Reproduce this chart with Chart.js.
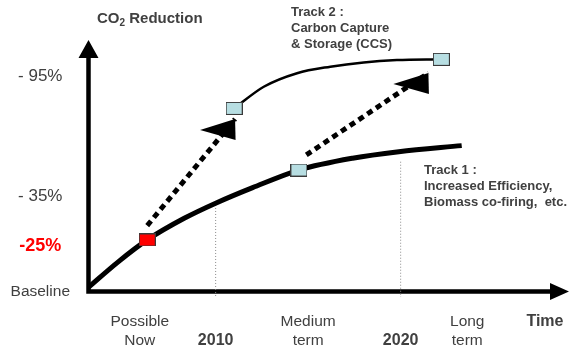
<!DOCTYPE html>
<html>
<head>
<meta charset="utf-8">
<script src="https://cdn.jsdelivr.net/npm/chart.js@4.4.1/dist/chart.umd.min.js"></script>
<style>
  body { margin: 0; background: #ffffff; }
  #wrap { width: 572px; height: 354px; position: relative; }
</style>
</head>
<body>
<div id="wrap"><canvas id="co2Chart"></canvas></div>
<script>
// time axis in years, vertical axis in conceptual "reduction level" units (0 = baseline)
var track1Years = [2003.1, 2004.7, 2006.3, 2008.3, 2010.0, 2012.0, 2014.5, 2017.4, 2019.9, 2023.3];
var track1Level = [1.5, 11.6, 20.5, 29.1, 35.1, 41.3, 48.3, 53.0, 55.6, 58.0];

var track2Years = [2011.0, 2012.6, 2014.4, 2016.2, 2018.0, 2019.8, 2022.2];
var track2Level = [72.8, 81.4, 86.8, 89.4, 91.1, 92.0, 92.3];

var nowYear = [2006.3];
var nowLevel = [20.5];
var stepYears = [2011.0, 2014.5, 2022.2];
var stepLevel = [72.8, 48.3, 92.3];

// dotted arrows: start and tip
var arrowFromYears = [2006.3, 2014.9];
var arrowFromLevel = [26.2, 54.3];
var arrowToYears = [2011.05, 2021.5];
var arrowToLevel = [68.6, 86.9];

var guideYears = [2010, 2020];
var guideTop = [34.4, 51.6];
var guideBottom = -2.2;

var yTickValues = [0, 18, 38, 85.4];
var yTickLabels = ['Baseline', '-25%', '- 35%', '- 95%'];
var xTickValues = [2005.9, 2010, 2015, 2020, 2023.6, 2027.8];
var xTickLabels = [['Possible', 'Now'], ['', '2010'], ['Medium', 'term'], ['', '2020'], ['Long', 'term'], ['Time', '']];

var FONT = "'Liberation Sans', Arial, sans-serif";
var TEXT = '#404040';

function pairs(xs, ys) {
    var out = [];
    for (var i = 0; i < xs.length; i++) out.push({ x: xs[i], y: ys[i] });
    return out;
}

function boxMarker(fill) {
    var c = document.createElement('canvas');
    c.width = 17;
    c.height = 13;
    var g = c.getContext('2d');
    g.fillStyle = '#3a3a3a';
    g.fillRect(0, 0, 17, 13);
    g.fillStyle = fill;
    g.fillRect(1, 1, 15, 11);
    return c;
}

var datasets = [
    { data: pairs(nowYear, nowLevel), pointStyle: boxMarker('#ff0000'), pointRadius: 8, showLine: false },
    { data: pairs(stepYears, stepLevel), pointStyle: boxMarker('#b7dee2'), pointRadius: 8, showLine: false },
    { type: 'line', data: pairs(track2Years, track2Level), borderColor: '#000', borderWidth: 2.5,
      pointRadius: 0, cubicInterpolationMode: 'monotone', fill: false },
    { type: 'line', data: pairs(track1Years, track1Level), borderColor: '#000', borderWidth: 5,
      pointRadius: 0, cubicInterpolationMode: 'monotone', fill: false }
];

for (var a = 0; a < arrowFromYears.length; a++) {
    datasets.push({
        data: [{ x: arrowFromYears[a], y: arrowFromLevel[a] }, { x: arrowToYears[a], y: arrowToLevel[a] }],
        showLine: true, borderColor: '#000', borderWidth: 5, borderDash: [6, 4.5], borderCapStyle: 'butt',
        pointRadius: 0, arrowTip: true
    });
}
for (var g = 0; g < guideYears.length; g++) {
    datasets.push({
        data: [{ x: guideYears[g], y: guideTop[g] }, { x: guideYears[g], y: guideBottom }],
        showLine: true, borderColor: '#8a8a8a', borderWidth: 1, borderDash: [1, 2],
        pointRadius: 0, clip: false
    });
}

var diagramPlugin = {
    id: 'diagram',
    beforeDatasetsDraw: function (chart) {
        var ctx = chart.ctx;
        var area = chart.chartArea;
        var ax = chart.scales.x.getPixelForValue(chart.scales.x.min) + 0.5;
        var ay = chart.scales.y.getPixelForValue(0);
        ctx.save();
        ctx.strokeStyle = '#000';
        ctx.fillStyle = '#000';
        ctx.lineWidth = 4.5;
        ctx.beginPath();
        ctx.moveTo(ax, ay + 2.25);
        ctx.lineTo(ax, area.top + 12);
        ctx.moveTo(ax - 2.25, ay);
        ctx.lineTo(area.right - 12, ay);
        ctx.stroke();
        // arrow heads of the two axes
        ctx.beginPath();
        ctx.moveTo(ax, area.top);
        ctx.lineTo(ax - 10, area.top + 18);
        ctx.lineTo(ax + 10, area.top + 18);
        ctx.closePath();
        ctx.moveTo(area.right, ay);
        ctx.lineTo(area.right - 19, ay - 8.5);
        ctx.lineTo(area.right - 19, ay + 8.5);
        ctx.closePath();
        ctx.fill();
        ctx.restore();
    },
    afterDatasetsDraw: function (chart) {
        var ctx = chart.ctx;
        ctx.save();
        ctx.fillStyle = '#000';
        chart.data.datasets.forEach(function (ds, i) {
            if (!ds.arrowTip) return;
            var pts = chart.getDatasetMeta(i).data;
            var tip = pts[pts.length - 1];
            ctx.beginPath();
            ctx.moveTo(tip.x, tip.y);
            ctx.lineTo(tip.x - 35, tip.y + 11);
            ctx.lineTo(tip.x + 0.5, tip.y + 21);
            ctx.closePath();
            ctx.fill();
        });
        ctx.restore();
    },
    afterDraw: function (chart) {
        var ctx = chart.ctx;
        ctx.save();
        ctx.fillStyle = TEXT;
        ctx.textBaseline = 'middle';
        ctx.textAlign = 'left';
        // title with subscript
        ctx.font = 'bold 15px ' + FONT;
        ctx.fillText('CO', 97, 19);
        var w = ctx.measureText('CO').width;
        ctx.font = 'bold 10px ' + FONT;
        ctx.fillText('2', 97 + w, 23);
        var w2 = ctx.measureText('2').width;
        ctx.font = 'bold 15px ' + FONT;
        ctx.fillText(' Reduction', 97 + w + w2, 19);

        ctx.font = 'bold 13px ' + FONT;
        ctx.fillText('Track 2 :', 291, 12);
        ctx.fillText('Carbon Capture', 291, 28);
        ctx.fillText('& Storage (CCS)', 291, 44);
        ctx.fillText('Track 1 :', 424, 170);
        ctx.fillText('Increased Efficiency,', 424, 186);
        ctx.fillText('Biomass co-firing,  etc.', 424, 202);
        ctx.restore();
    }
};

window.onload = function () {
    var ctx1 = document.getElementById('co2Chart').getContext('2d');
    window.co2Chart = new Chart(ctx1, {
        type: 'scatter',
        data: { datasets: datasets },
        plugins: [diagramPlugin],
        options: {
            responsive: true,
            maintainAspectRatio: false,
            animation: false,
            layout: { autoPadding: false, padding: { top: 40, right: 3, left: 0, bottom: 0 } },
            plugins: { legend: { display: false }, tooltip: { enabled: false } },
            scales: {
                x: {
                    type: 'linear',
                    min: 2003.1,
                    max: 2029.1,
                    grid: { display: false, drawTicks: false },
                    border: { display: false },
                    afterFit: function (scale) {
                        scale.height = 62.5;
                        scale.paddingLeft = 0;
                        scale.paddingRight = 0;
                    },
                    afterBuildTicks: function (scale) {
                        scale.ticks = xTickValues.map(function (v) { return { value: v }; });
                    },
                    ticks: {
                        padding: 21,
                        maxRotation: 0,
                        autoSkip: false,
                        color: TEXT,
                        font: function (c) {
                            var bold = c.index === 1 || c.index === 3 || c.index === 5;
                            return { family: FONT, size: bold ? 16 : 15.5, weight: bold ? 'bold' : 'normal', lineHeight: bold ? 1.19 : 1.23 };
                        },
                        callback: function (value, index) { return xTickLabels[index]; }
                    }
                },
                y: {
                    type: 'linear',
                    min: 0,
                    max: 100,
                    grid: { display: false, drawTicks: false },
                    border: { display: false },
                    afterFit: function (scale) {
                        scale.width = 88;
                        scale.paddingTop = 0;
                        scale.paddingBottom = 0;
                    },
                    afterBuildTicks: function (scale) {
                        scale.ticks = yTickValues.map(function (v) { return { value: v }; });
                    },
                    ticks: {
                        padding: 18,
                        crossAlign: 'center',
                        autoSkip: false,
                        color: function (c) { return c.index === 1 ? '#ff0000' : TEXT; },
                        font: function (c) {
                            if (c.index === 1) return { family: FONT, size: 18, weight: 'bold' };
                            if (c.index === 0) return { family: FONT, size: 15.5 };
                            return { family: FONT, size: 17 };
                        },
                        callback: function (value, index) { return yTickLabels[index]; }
                    }
                }
            }
        }
    });
};
</script>
</body>
</html>
